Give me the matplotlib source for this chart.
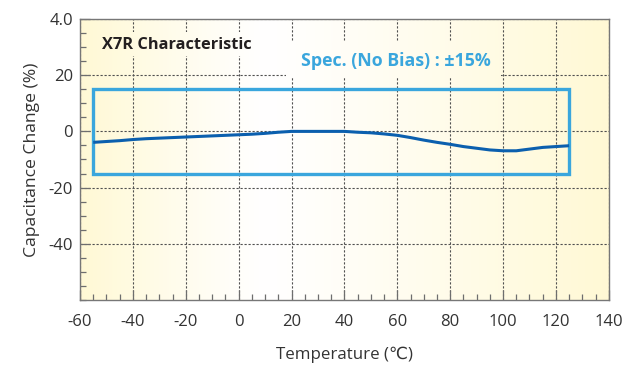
import numpy as np
import matplotlib
matplotlib.use("Agg")
import matplotlib.pyplot as plt
from matplotlib.patches import Rectangle
from matplotlib.ticker import MultipleLocator, FixedLocator, FixedFormatter

plt.rcParams['font.family'] = ['Open Sans', 'DejaVu Sans']
plt.rcParams['axes.unicode_minus'] = False

# Temperature characteristic of an X7R capacitor
temperature = [-55, -50, -45, -40, -35, -30, -25, -20, -15, -10, -5, 0, 5, 10, 15,
               20, 25, 30, 35, 40, 45, 50, 55, 60, 65, 70, 75, 80, 85, 90, 95,
               100, 105, 110, 115, 120, 125]
cap_change = [-3.9, -3.6, -3.3, -2.9, -2.6, -2.4, -2.2, -2.0, -1.8, -1.6, -1.4, -1.2,
              -1.0, -0.7, -0.3, 0.0, 0.0, 0.0, 0.0, 0.0, -0.3, -0.5, -0.9, -1.4,
              -2.2, -3.1, -3.9, -4.6, -5.4, -6.0, -6.6, -6.9, -6.9, -6.3, -5.7,
              -5.4, -5.1]

# Specification window (no bias): -55..125 degC, +/-15 %
spec_temp = [-55, 125]
spec_limit = [-15, 15]

x_ticks = [-60, -40, -20, 0, 20, 40, 60, 80, 100, 120, 140]
x_labels = ['-60', '-40', '-20', '0', '20', '40', '60', '80', '100', '120', '140']
y_ticks = [-40, -20, 0, 20, 40]
y_labels = ['-40', '-20', '0', '20', '4.0']

xlim = (-60, 140)
ylim = (-60, 40)

fig = plt.figure(figsize=(6.41, 3.68), dpi=100)
ax = fig.add_axes([0.1248, 0.1848, 0.825, 0.7636])
ax.set_xlim(*xlim)
ax.set_ylim(*ylim)

# Horizontal cream -> white -> cream background
xs = np.linspace(xlim[0], xlim[1], 400)
t = np.where(xs < 10, (10 - xs) / 70.0, (xs - 10) / 130.0)
t = np.clip(t, 0, 1) ** 1.1
yellow = np.array([1.0, 0.976, 0.835])
white = np.array([1.0, 1.0, 1.0])
row = white[None, :] * (1 - t[:, None]) + yellow[None, :] * t[:, None]
grad = np.repeat(row[None, :, :], 2, axis=0)
ext = [xlim[0], xlim[1], ylim[0], ylim[1]]
ax.imshow(grad, extent=ext, aspect='auto', zorder=0.1, interpolation='bilinear')

ax.set_axisbelow(True)
ax.grid(True, which='major', color='#505050', linestyle=(0, (2.0, 1.6)), linewidth=0.8)

# Background patches behind the two captions (hide grid under the text)
for (x0, x1, y0, y1) in [(-54.5, 10.5, 27.0, 35.2), (18.0, 99.0, 19.0, 32.0)]:
    im = ax.imshow(grad, extent=ext, aspect='auto', zorder=0.8, interpolation='bilinear')
    clip = Rectangle((x0, y0), x1 - x0, y1 - y0, transform=ax.transData)
    im.set_clip_path(clip)

# Spec window
ax.add_patch(Rectangle((spec_temp[0], spec_limit[0]), spec_temp[1] - spec_temp[0],
                       spec_limit[1] - spec_limit[0], fill=False,
                       edgecolor='#3aa6dd', linewidth=2.4, zorder=2))

# Measured curve
ax.plot(temperature, cap_change, color='#0b5fae', linewidth=2.2, zorder=3,
        solid_capstyle='butt')

ax.text(-51.7, 30.8, 'X7R Characteristic', fontsize=11.8, fontweight='bold',
        color='#231f20', ha='left', va='center', zorder=4)
ax.text(23.6, 24.9, 'Spec. (No Bias) : \u00b115%', fontsize=12.8, fontweight='bold',
        color='#3aa6dd', ha='left', va='center', zorder=4)

ax.xaxis.set_major_locator(FixedLocator(x_ticks))
ax.xaxis.set_major_formatter(FixedFormatter(x_labels))
ax.yaxis.set_major_locator(FixedLocator(y_ticks))
ax.yaxis.set_major_formatter(FixedFormatter(y_labels))
ax.xaxis.set_minor_locator(MultipleLocator(5))
ax.yaxis.set_minor_locator(MultipleLocator(5))

ax.tick_params(which='both', direction='in', colors='#6e6e6e', labelcolor='#333333',
               top=False, right=False)
ax.tick_params(which='major', length=7, width=0.9, labelsize=12)
ax.tick_params(which='minor', length=4.5, width=0.9)
ax.tick_params(axis='x', which='major', pad=10)
ax.tick_params(axis='y', which='major', pad=5)

for sp in ax.spines.values():
    sp.set_color('#777777')
    sp.set_linewidth(1.0)

ax.set_xlabel('Temperature (\u2103)', fontsize=12.2, color='#333333', labelpad=12)
ax.set_ylabel('Capacitance Change (%)', fontsize=12.6, color='#333333', labelpad=6)

fig.savefig('out.png', dpi=100)
